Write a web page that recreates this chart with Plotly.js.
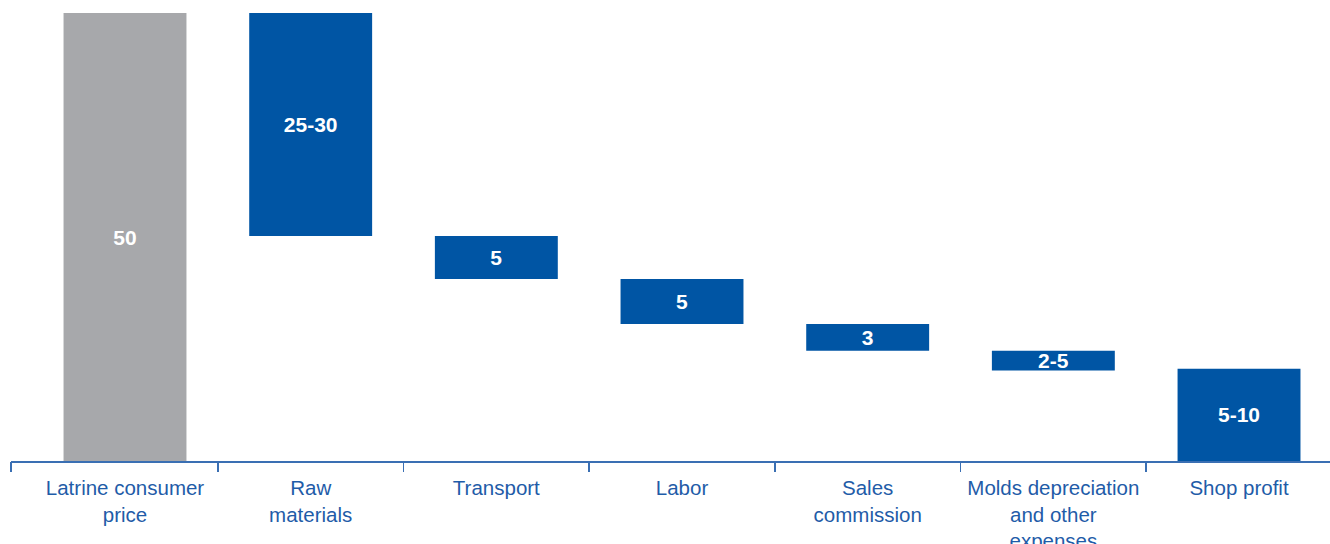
<!DOCTYPE html>
<html>
<head>
<meta charset="utf-8">
<script src="https://cdn.plot.ly/plotly-3.0.1.min.js"></script>
<style>html,body{margin:0;padding:0;background:#fff;}#chart{width:1330px;height:544px;}</style>
</head>
<body>
<div id="chart"></div>
<script>
const categories = ["Latrine consumer<br>price", "Raw<br>materials", "Transport", "Labor", "Sales<br>commission", "Molds depreciation<br>and other<br>expenses", "Shop profit"];
const values = [50, 24.9, 4.8, 5.0, 3.0, 2.2, 10.3];
const valueLabels = ["50", "25-30", "5", "5", "3", "2-5", "5-10"];
const kinds = ["total", "down", "down", "down", "down", "down", "total"];
const boundaryTicks = [-0.614, 0.5, 1.5, 2.5, 3.5, 4.5, 5.5];

const GRAY = "#a7a8ab", BLUE = "#0055a4", TEXTBLUE = "#1f5ca8";

let running = 0;
const bases = [], colors = [];
values.forEach((v, i) => {
  if (kinds[i] === "total") {
    bases.push(0);
    running = v;
    colors.push(i === 0 ? GRAY : BLUE);
  } else {
    running -= v;
    bases.push(running);
    colors.push(BLUE);
  }
});

const trace = {
  type: "bar",
  x: categories,
  y: values,
  base: bases,
  text: valueLabels,
  textposition: "inside",
  insidetextanchor: "middle",
  textangle: 0,
  textfont: {family: "Liberation Sans, Arial, sans-serif", size: 21, color: "#ffffff", weight: "bold"},
  marker: {color: colors, line: {width: 0}},
  hoverinfo: "none",
  cliponaxis: false
};

const tickTrace = {
  type: "scatter", x: boundaryTicks, y: boundaryTicks.map(() => 0),
  xaxis: "x2", mode: "none", hoverinfo: "none", showlegend: false
};

const layout = {
  width: 1330, height: 544,
  margin: {l: 10.5, r: 0, t: 13, b: 83},
  paper_bgcolor: "#fff", plot_bgcolor: "#fff",
  showlegend: false,
  bargap: 0.338,
  uniformtext: {minsize: 21, mode: "show"},
  xaxis: {
    type: "category",
    range: [-0.614, 6.49],
    showline: true, linecolor: "#3a6fb3", linewidth: 1.5,
    ticks: "", showgrid: false, zeroline: false,
    tickfont: {family: "Liberation Sans, Arial, sans-serif", size: 20.5, color: TEXTBLUE},
    ticklabelstandoff: 8
  },
  xaxis2: {
    overlaying: "x", anchor: "y",
    range: [-0.614, 6.49],
    tickmode: "array", tickvals: boundaryTicks,
    showticklabels: false,
    ticks: "outside", ticklen: 10, tickwidth: 1.5, tickcolor: "#3a6fb3",
    showgrid: false, zeroline: false, showline: false
  },
  yaxis: {
    range: [0, 50], visible: false, showgrid: false, zeroline: false, fixedrange: true
  }
};

Plotly.newPlot("chart", [trace, tickTrace], layout, {displayModeBar: false, staticPlot: true});
</script>
</body>
</html>
